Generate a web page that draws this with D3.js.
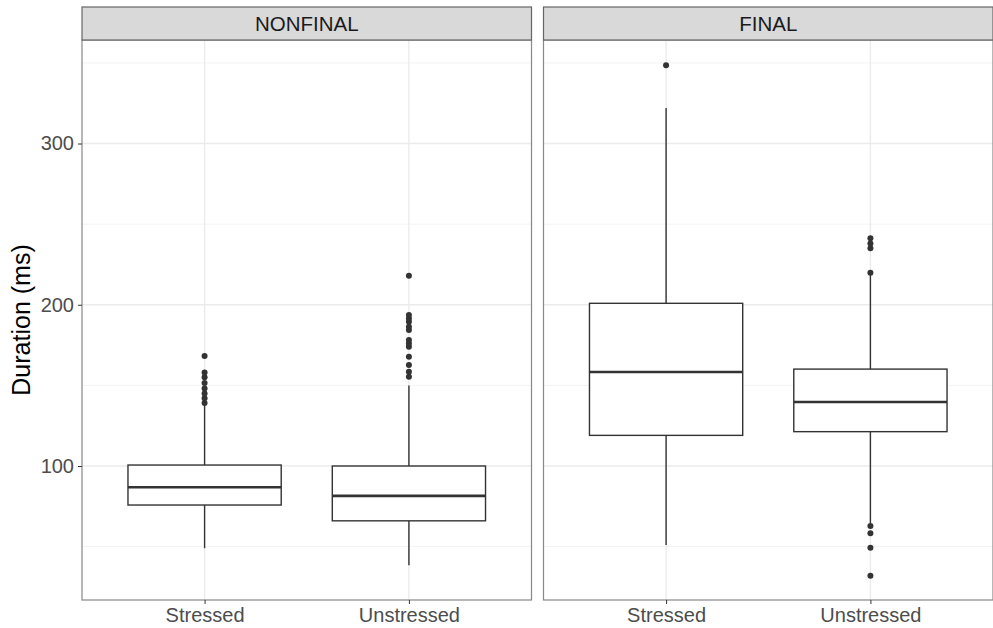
<!DOCTYPE html>
<html>
<head>
<meta charset="utf-8">
<script src="https://cdn.jsdelivr.net/npm/d3@7"></script>
<style>
  body { margin: 0; background: #fff; }
  text { font-family: "Liberation Sans", Arial, Helvetica, sans-serif; }
</style>
</head>
<body>
<div id="chart"></div>
<script>
// facets / categories
const facets = ['NONFINAL', 'FINAL'];
const categories = ['Stressed', 'Unstressed'];

// box stats, order: NONFINAL-Stressed, NONFINAL-Unstressed, FINAL-Stressed, FINAL-Unstressed
const whiskerLow = [49, 38.5, 51, 64.5];
const q1 = [75.8, 66, 119, 121.3];
const median = [86.8, 81.5, 158.3, 139.7];
const q3 = [100.6, 100, 200.9, 160.1];
const whiskerHigh = [137.8, 150, 322, 218.5];
const outliers = [
    [139, 142, 145, 148, 151.5, 155, 158, 168.2],
    [155.4, 158.5, 162.6, 167.8, 173.9, 176, 178.1, 184.3, 186.3, 189.4, 191.5, 193.6, 218],
    [348.6],
    [32, 49.3, 58.3, 62.8, 219.8, 235, 238, 241.2]
];

const yTicks = [100, 200, 300];
const yMinor = [50, 150, 250, 350];

const W = 993, H = 628;
const margin = { top: 40, left: 82, bottom: 28, right: 0 };
const stripH = 33;
const gap = 12;
const panelW = (W - margin.left - margin.right - gap) / 2;
const panelH = H - margin.top - margin.bottom;

let svg = d3.select('#chart').append('svg')
    .attr('width', W)
    .attr('height', H);

let yScale = d3.scaleLinear().domain([16.9, 364.2]).range([margin.top + panelH, margin.top]);

facets.forEach(function (facet, f) {
    let x0 = margin.left + f * (panelW + gap);
    // ggplot discrete expansion: 0.6 units each side
    let xScale = d3.scaleLinear().domain([0.4, 2.6]).range([x0, x0 + panelW]);
    let unit = xScale(2) - xScale(1);

    let g = svg.append('g');

    // panel background + grid
    g.append('rect').attr('x', x0).attr('y', margin.top).attr('width', panelW).attr('height', panelH)
        .attr('fill', '#fff');

    yMinor.forEach(function (v) {
        g.append('line').attr('x1', x0).attr('x2', x0 + panelW)
            .attr('y1', yScale(v)).attr('y2', yScale(v))
            .attr('stroke', '#f3f3f3').attr('stroke-width', 1);
    });
    yTicks.forEach(function (v) {
        g.append('line').attr('x1', x0).attr('x2', x0 + panelW)
            .attr('y1', yScale(v)).attr('y2', yScale(v))
            .attr('stroke', '#ebebeb').attr('stroke-width', 1.4);
    });
    categories.forEach(function (c, i) {
        g.append('line').attr('x1', xScale(i + 1)).attr('x2', xScale(i + 1))
            .attr('y1', margin.top).attr('y2', margin.top + panelH)
            .attr('stroke', '#ebebeb').attr('stroke-width', 1.4);
    });

    // boxes
    categories.forEach(function (c, i) {
        let k = f * 2 + i;
        let cx = xScale(i + 1);
        let half = unit * 0.375;

        g.append('line').attr('x1', cx).attr('x2', cx)
            .attr('y1', yScale(q3[k])).attr('y2', yScale(whiskerHigh[k]))
            .attr('stroke', '#333').attr('stroke-width', 1.4);
        g.append('line').attr('x1', cx).attr('x2', cx)
            .attr('y1', yScale(q1[k])).attr('y2', yScale(whiskerLow[k]))
            .attr('stroke', '#333').attr('stroke-width', 1.4);

        g.append('rect')
            .attr('x', cx - half).attr('width', half * 2)
            .attr('y', yScale(q3[k])).attr('height', yScale(q1[k]) - yScale(q3[k]))
            .attr('fill', '#fff').attr('stroke', '#333').attr('stroke-width', 1.4);

        g.append('line').attr('x1', cx - half).attr('x2', cx + half)
            .attr('y1', yScale(median[k])).attr('y2', yScale(median[k]))
            .attr('stroke', '#333').attr('stroke-width', 2.6);

        outliers[k].forEach(function (v) {
            g.append('circle').attr('cx', cx).attr('cy', yScale(v)).attr('r', 3)
                .attr('fill', '#333');
        });
    });

    // panel border
    g.append('rect').attr('x', x0).attr('y', margin.top).attr('width', panelW).attr('height', panelH)
        .attr('fill', 'none').attr('stroke', '#888').attr('stroke-width', 1.2);

    // strip
    g.append('rect').attr('x', x0).attr('y', margin.top - stripH).attr('width', panelW).attr('height', stripH)
        .attr('fill', '#d9d9d9').attr('stroke', '#666').attr('stroke-width', 1.2);
    g.append('text').attr('x', x0 + panelW / 2).attr('y', margin.top - stripH / 2)
        .attr('dy', '0.35em').attr('text-anchor', 'middle')
        .attr('font-size', 20.5).attr('fill', '#1a1a1a').text(facet);

    // x axis
    let xAxis = d3.axisBottom(xScale).tickValues([1, 2])
        .tickFormat(function (d) { return categories[d - 1]; })
        .tickSize(4).tickPadding(4);
    let ax = g.append('g').attr('transform', 'translate(0,' + (margin.top + panelH) + ')').call(xAxis);
    ax.select('.domain').remove();
    ax.selectAll('line').attr('stroke', '#333');
    ax.selectAll('text').attr('font-size', 20).attr('fill', '#4d4d4d')
        .style('font-family', '"Liberation Sans", Arial, sans-serif');
});

// y axis
let yAxis = d3.axisLeft(yScale).tickValues(yTicks).tickSize(4).tickPadding(4);
let ay = svg.append('g').attr('transform', 'translate(' + margin.left + ',0)').call(yAxis);
ay.select('.domain').remove();
ay.selectAll('line').attr('stroke', '#333');
ay.selectAll('text').attr('font-size', 20).attr('fill', '#4d4d4d')
    .style('font-family', '"Liberation Sans", Arial, sans-serif');

// y title
svg.append('text')
    .attr('transform', 'translate(30,' + (margin.top + panelH / 2) + ') rotate(-90)')
    .attr('text-anchor', 'middle')
    .attr('font-size', 25).attr('fill', '#000')
    .text('Duration (ms)');
</script>
</body>
</html>
